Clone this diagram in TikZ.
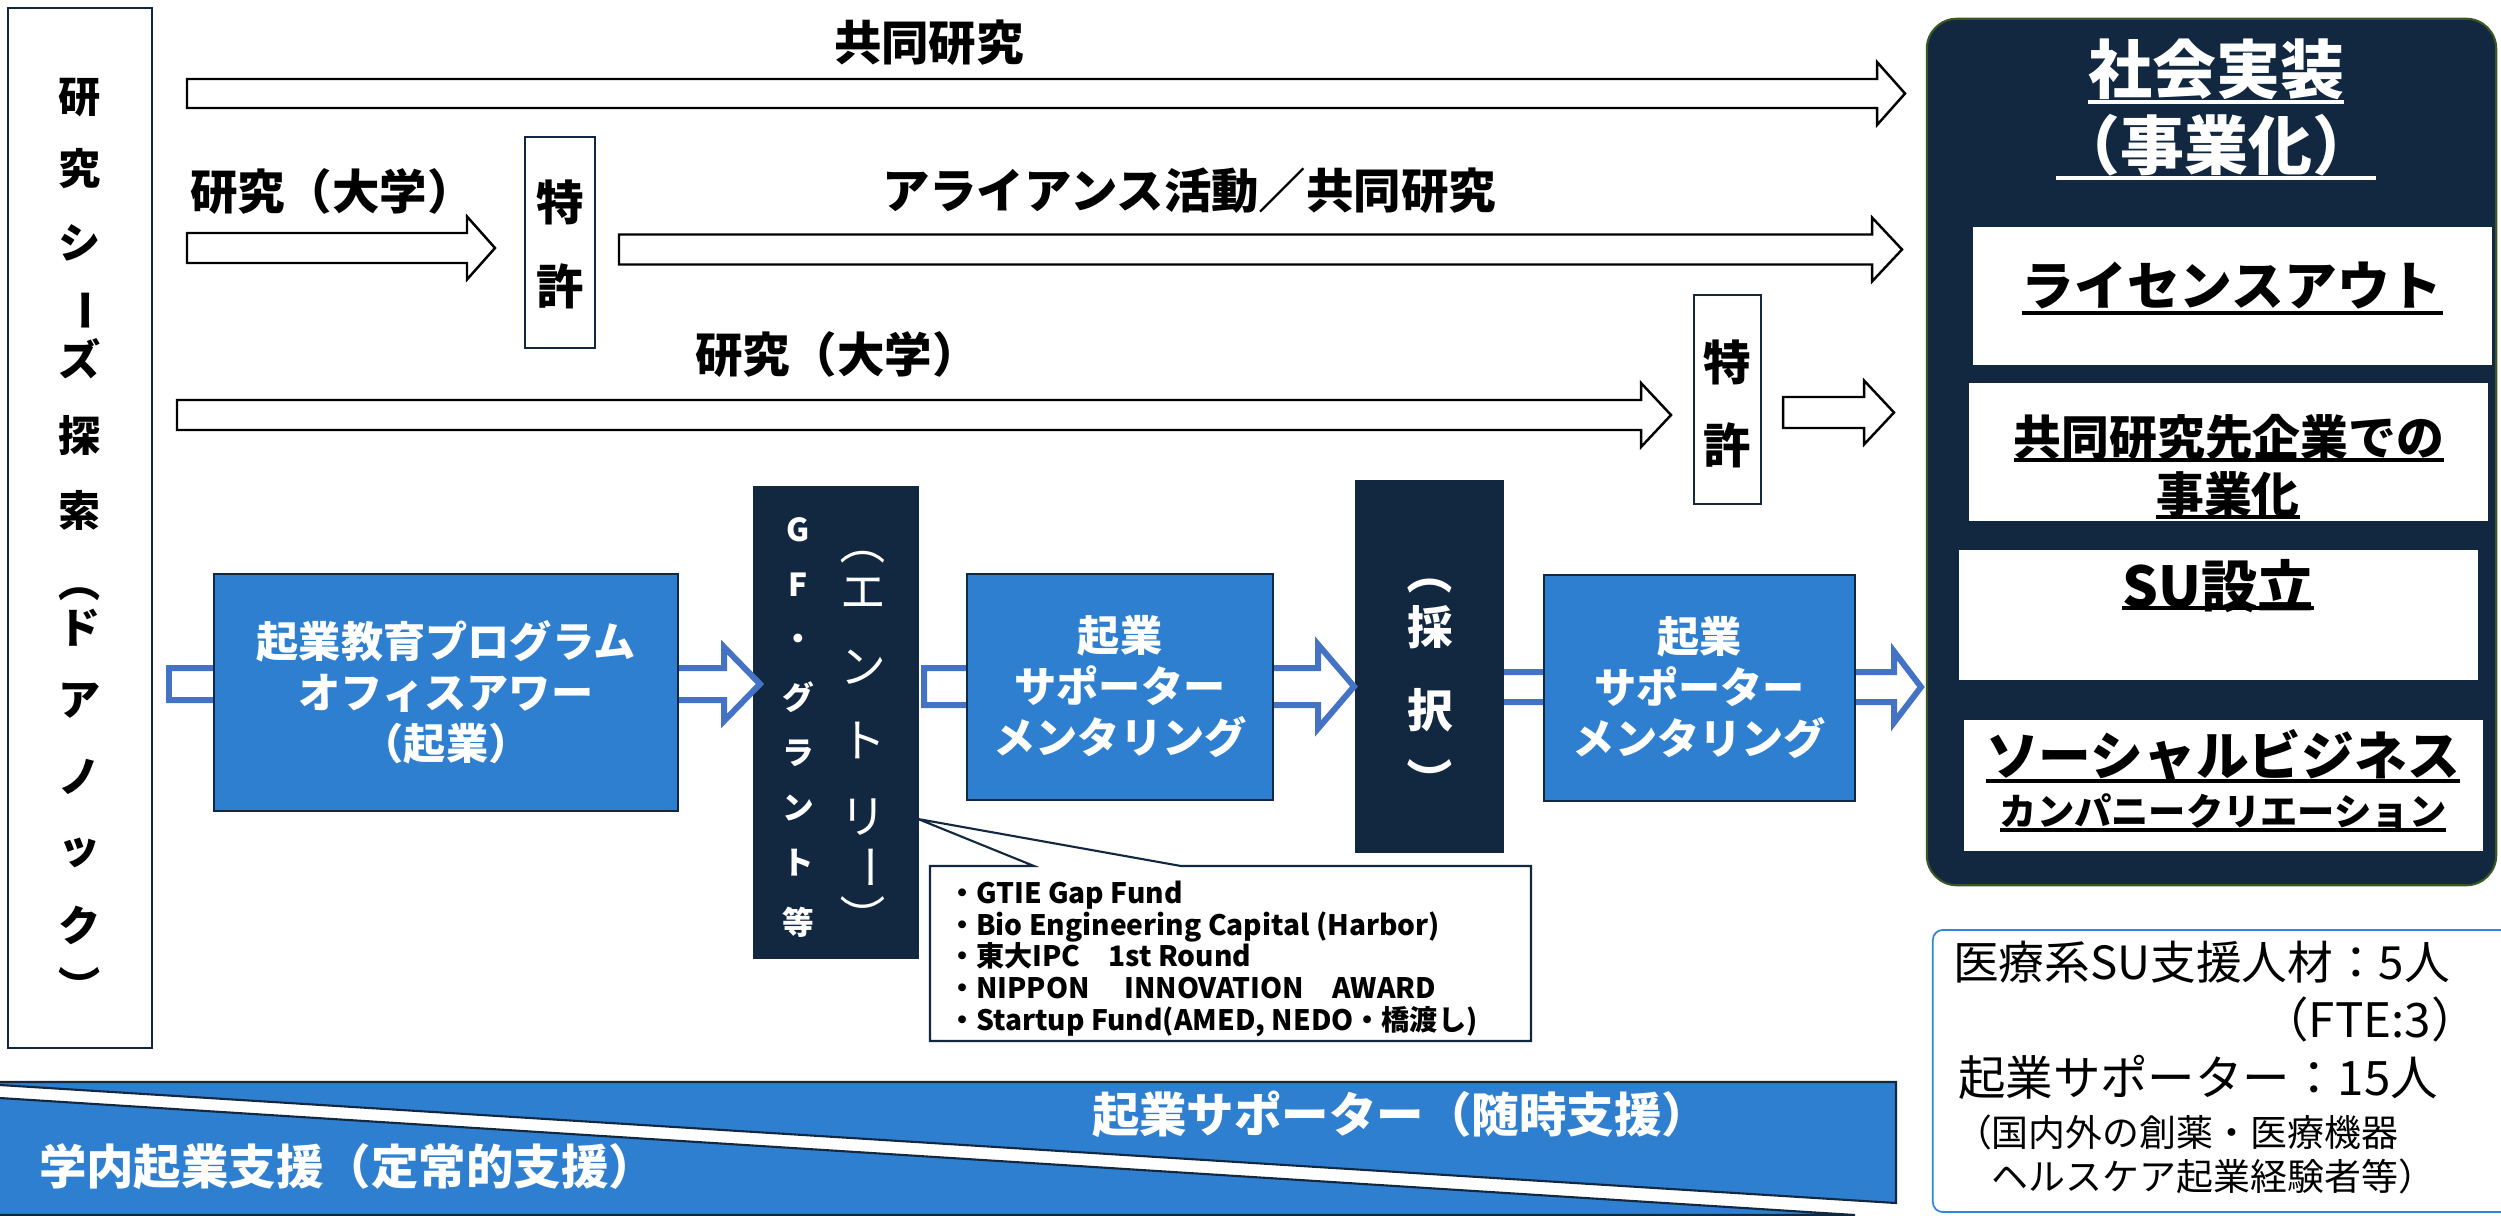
\documentclass[tikz,border=0pt]{standalone}
\usepackage{fontspec}
\setmainfont{Noto Sans CJK JP}
\usepackage{tikz}
\usetikzlibrary{positioning}

\definecolor{navy}{RGB}{18,40,65}
\definecolor{boxblue}{RGB}{46,127,208}
\definecolor{arrowblue}{RGB}{68,114,196}
\definecolor{olive}{RGB}{56,87,35}
\definecolor{infoblue}{RGB}{46,134,222}

% block arrow: [style]{tail}{head base}{tip}{y}{shaft half}{head half}
\newcommand{\blockarrow}[7][]{%
  \draw[#1] (#2,#5-#6) -- (#3,#5-#6) -- (#3,#5-#7) -- (#4,#5)
    -- (#3,#5+#7) -- (#3,#5+#6) -- (#2,#5+#6) -- cycle;}

\begin{document}
\begin{tikzpicture}
		[x=0.01cm,y=-0.01cm,
		every node/.style={inner sep=0pt,outer sep=0pt},
		lbl/.style={font=\bfseries\fontsize{13.5}{16}\selectfont},
		patent/.style={draw=navy,line width=0.6pt,fill=white},
		bbox/.style={draw=navy,line width=0.6pt,fill=boxblue,minimum height=2.26cm,
			text=white,align=center,font=\bfseries\fontsize{12}{14.5}\selectfont},
		nbox/.style={draw=navy,line width=0.6pt,fill=navy},
		wbox/.style={fill=white,minimum width=5.19cm},
		btxt/.style={font=\bfseries\fontsize{15}{18}\selectfont},
		blk/.style={draw=black,line width=0.7pt,fill=white},
		blu/.style={draw=arrowblue,line width=1.7pt,fill=white},
		ul/.style={line width=0.9pt}]
		\useasboundingbox (0,0) rectangle (2501,1215);
		
		% support band at the bottom
		\draw[fill=boxblue,draw=navy,line width=0.6pt] (-5,1082) -- (1896,1082) -- (1896,1203) -- (-5,1084.7) -- cycle;
		\draw[fill=boxblue,draw=navy,line width=0.6pt] (-5,1097.7) -- (1855,1215) -- (-5,1215) -- cycle;
		\node[lbl,text=white,anchor=west] (adhoc) at (1092,1114) {起業サポーター（随時支援）};
		\node[lbl,text=white,anchor=west] (regular) at (39,1167) {学内起業支援（定常的支援）};
		
		% seeds column
		\node[draw=navy,line width=0.6pt,fill=white,minimum width=1.44cm,minimum height=10.4cm] (seeds) at (80,528) {};
		\foreach \ch/\y/\r [count=\i] in
		{研/98/0, 究/169/0, シ/243/0, ー/311/-90, ズ/359/0, 探/435/0, 索/510/0,
		 （/582/-90, ド/628/0, ア/701/0, ノ/777/0, ッ/853/0, ク/925/0, ）/987/-90}
		\node[rotate=\r,font=\bfseries\fontsize{12}{12}\selectfont] (seed\i) at (80,\y) {\ch};
		
		% research arrows
		\blockarrow[blk]{187}{1877}{1905}{93.5}{14.5}{31.5}
		\blockarrow[blk]{187}{467}{495}{248}{15}{31.5}
		\blockarrow[blk]{619}{1872}{1902}{249.5}{15}{32}
		\blockarrow[blk]{177}{1641}{1671}{415}{15}{32}
		\blockarrow[blk]{1783}{1864}{1894}{412.5}{15.5}{32}
		\node[lbl,anchor=west] (joint) at (834,43) {共同研究};
		\node[lbl,anchor=west] (univ1) at (190,191) {研究（大学）};
		\node[lbl,anchor=west] (alliance) at (882,191) {アライアンス活動／共同研究};
		\node[lbl,anchor=west] (univ2) at (695,354) {研究（大学）};
		
		\node[patent,minimum width=0.70cm,minimum height=2.11cm] (pat1) at (560,242.5) {};
		\node[lbl] (pat1a) at (560,202) {特};
		\node[lbl] (pat1b) at (560,286) {許};
		\node[patent,minimum width=0.67cm,minimum height=2.09cm] (pat2) at (1727.5,399.5) {};
		\node[lbl] (pat2a) at (1727.5,362) {特};
		\node[lbl] (pat2b) at (1727.5,445) {許};
		
		% venture track
		\node[nbox,minimum width=1.64cm,minimum height=4.71cm] (gf) at (836,722.5) {};
		\foreach \ch/\y [count=\i] in {G/530, F/585, ・/642, グ/697, ラ/753, ン/808, ト/863, 等/922}
		\node[text=white,font=\bfseries\fontsize{9}{9}\selectfont] (gfl\i) at (798,\y) {\ch};
		\foreach \ch/\y/\r [count=\i] in {（/542/-90, エ/593/0, ン/667/0, ト/740/0, リ/817/0, ー/867/-90, ）/917/-90}
		\node[rotate=\r,text=white,font=\fontsize{13}{13}\selectfont] (gfr\i) at (863,\y) {\ch};
		
		\blockarrow[blu]{1480}{1894}{1921}{687}{15}{35.5}
		\node[nbox,minimum width=1.47cm,minimum height=3.71cm] (select) at (1429.5,666.5) {};
		\foreach \ch/\y/\r [count=\i] in {（/572/-90, 採/627/0, 択/710/0, ）/780/-90}
		\node[rotate=\r,text=white,font=\bfseries\fontsize{13}{13}\selectfont] (sel\i) at (1430,\y) {\ch};
		
		\blockarrow[blu]{169}{724}{760}{684}{16}{37}
		\blockarrow[blu]{924}{1318}{1354}{686.5}{18.5}{42}
		\node[bbox,minimum width=4.64cm,minimum height=2.37cm] (edu) at (446,692.5) {起業教育プログラム\\オフィスアワー\\（起業）};
		\node[bbox,minimum width=3.06cm] (mentor1) at (1120,687) {起業\\サポーター\\メンタリング};
		\node[bbox,minimum width=3.11cm] (mentor2) at (1699.5,688) {起業\\サポーター\\メンタリング};
		
		% callout with funds
		\draw[fill=white,draw=navy,line width=0.6pt] (930,866) -- (1034,866) -- (gf.east |- 0,819) -- (1181,866)
			-- (1531,866) -- (1531,1041) -- (930,1041) -- cycle;
		\node[anchor=north west,align=left,font=\bfseries\fontsize{8}{9}\selectfont] (funds) at (948,881)
			{・GTIE Gap Fund\\・Bio Engineering Capital (Harbor)\\・東大IPC　1st Round\\
			 ・NIPPON　 INNOVATION　AWARD\\・Startup Fund(AMED, NEDO・橋渡し)};
		
		% social implementation
		\node[nbox,draw=olive,rounded corners=3mm,minimum width=5.69cm,minimum height=8.66cm] (impl) at (2211.5,452) {};
		\node[text=white,font=\bfseries\fontsize{18.2}{20}\selectfont] (ttl1) at (2216,69) {社会実装};
		\node[text=white,font=\bfseries\fontsize{18.2}{20}\selectfont] (ttl2) at (2216,145) {（事業化）};
		\draw[white,ul] (ttl1.west |- 0,102) -- (ttl1.east |- 0,102);
		\draw[white,ul] (ttl2.west |- 0,178) -- (ttl2.east |- 0,178);
		
		\node[wbox,minimum height=1.38cm] (lic) at (2232.5,296) {};
		\node[wbox,minimum height=1.38cm] (jv) at (2228.5,452) {};
		\node[wbox,minimum height=1.30cm] (su) at (2218.5,615) {};
		\node[wbox,minimum height=1.31cm] (soc) at (2223.5,785.5) {};
		\node[btxt] (lictxt) at (2232,286) {ライセンスアウト};
		\node[font=\bfseries\fontsize{13.6}{16}\selectfont] (jvtxt1) at (2229,437) {共同研究先企業での};
		\node[font=\bfseries\fontsize{13.6}{16}\selectfont] (jvtxt2) at (2228,494) {事業化};
		\node[font=\bfseries\fontsize{16}{18}\selectfont] (sutxt) at (2218,586) {SU設立};
		\node[btxt] (soctxt1) at (2223,755) {ソーシャルビジネス};
		\node[font=\bfseries\fontsize{10.6}{12}\selectfont] (soctxt2) at (2223,811) {カンパニークリエーション};
		\foreach \n/\y in {lictxt/313, jvtxt1/460, jvtxt2/517, sutxt/608, soctxt1/781, soctxt2/830}
		\draw[ul] (\n.west |- 0,\y) -- (\n.east |- 0,\y);
		
		% staff
		\node[draw=infoblue,line width=0.5pt,rounded corners=1mm,fill=white,minimum width=5.87cm,minimum height=2.82cm] (staff) at (2226.5,1071) {};
		\node[font=\fontsize{13}{16}\selectfont,anchor=west] (staff1) at (1953,962) {医療系SU支援人材：5人};
		\node[font=\fontsize{13.5}{16}\selectfont] (staff2) at (2370,1019) {（FTE:3）};
		\node[font=\fontsize{13.5}{16}\selectfont] (staff3) at (2198,1077) {起業サポーター：15人};
		\node[font=\fontsize{10.5}{12}\selectfont,anchor=west] (staff4) at (1955,1132) {（国内外の創薬・医療機器};
		\node[font=\fontsize{10.5}{12}\selectfont,anchor=east] (staff5) at (2435,1176) {ヘルスケア起業経験者等）};
		\end{tikzpicture}
\end{document}
